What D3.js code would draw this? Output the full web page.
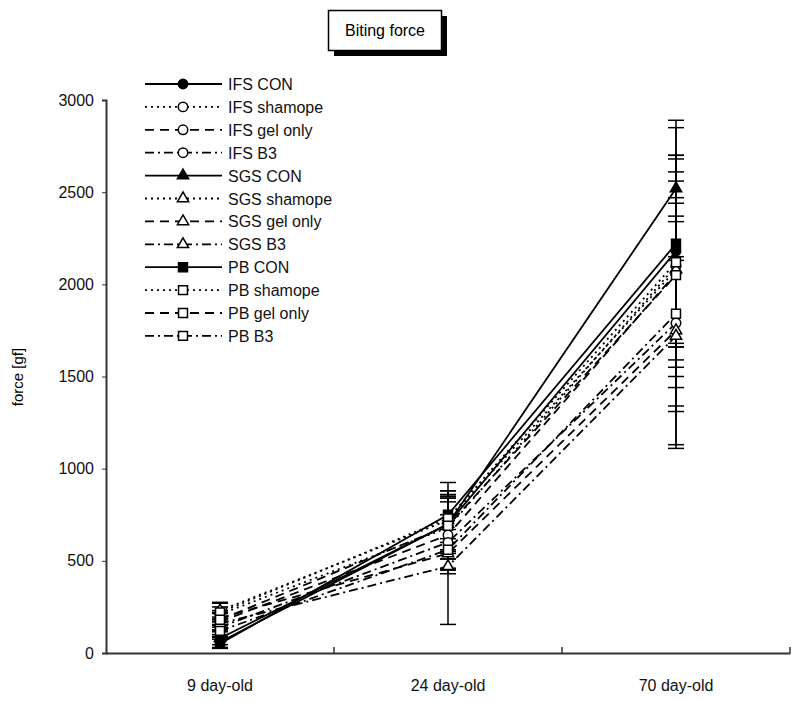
<!DOCTYPE html>
<html><head><meta charset="utf-8">
<script src="https://cdn.jsdelivr.net/npm/d3@7"></script>
<style>body{margin:0;background:#fff}svg{font-family:"Liberation Sans",Arial,sans-serif}</style>
</head><body><svg id="c" width="800" height="702"></svg>
<script>
const categories = ["9 day-old", "24 day-old", "70 day-old"];
const seriesNames = ["IFS CON","IFS shamope","IFS gel only","IFS B3","SGS CON","SGS shamope","SGS gel only","SGS B3","PB CON","PB shamope","PB gel only","PB B3"];
// means per series (9, 24, 70 day-old)
const ifsCon = [60, 700, 2180];
const ifsSham = [210, 680, 2100];
const ifsGel = [170, 640, 2060];
const ifsB3 = [140, 600, 1790];
const sgsCon = [80, 700, 2520];
const sgsSham = [230, 720, 2080];
const sgsGel = [190, 540, 1750];
const sgsB3 = [160, 470, 1720];
const pbCon = [50, 750, 2220];
const pbSham = [220, 730, 2120];
const pbGel = [180, 690, 2050];
const pbB3 = [120, 560, 1840];
// standard deviations
const ifsConSd = [30, 150, 520];
const ifsShamSd = [40, 170, 600];
const ifsGelSd = [45, 180, 620];
const ifsB3Sd = [40, 150, 680];
const sgsConSd = [35, 140, 370];
const sgsShamSd = [45, 160, 530];
const sgsGelSd = [40, 385, 620];
const sgsB3Sd = [35, 40, 410];
const pbConSd = [25, 130, 630];
const pbShamSd = [50, 130, 440];
const pbGelSd = [40, 150, 390];
const pbB3Sd = [35, 110, 500];
const yTicks = [0, 500, 1000, 1500, 2000, 2500, 3000];

const meansAll = [ifsCon, ifsSham, ifsGel, ifsB3, sgsCon, sgsSham, sgsGel, sgsB3, pbCon, pbSham, pbGel, pbB3];
const sdsAll = [ifsConSd, ifsShamSd, ifsGelSd, ifsB3Sd, sgsConSd, sgsShamSd, sgsGelSd, sgsB3Sd, pbConSd, pbShamSd, pbGelSd, pbB3Sd];

const dashes = [null, "2,4", "9,6", "9,4,2,4"];
const shapes = [d3.symbolCircle, d3.symbolTriangle, d3.symbolSquare];
const shapeSizes = [70, 55, 80];

const series = seriesNames.map((n, i) => ({
  name: n, means: meansAll[i], sds: sdsAll[i],
  dash: dashes[i % 4], shape: shapes[Math.floor(i / 4)], size: shapeSizes[Math.floor(i / 4)],
  filled: i % 4 === 0
}));

const svg = d3.select("#c");
const x = d3.scaleBand().domain(categories).range([106, 790]);
const y = d3.scaleLinear().domain([0, 3000]).range([653, 100]);
const cx = c => x(c) + x.bandwidth() / 2;

// title box
svg.append("rect").attr("x", 334).attr("y", 16).attr("width", 113).attr("height", 40).attr("fill", "#000");
svg.append("rect").attr("x", 328.5).attr("y", 10.5).attr("width", 113).attr("height", 40).attr("fill", "#fff").attr("stroke", "#000").attr("stroke-width", 1.5);
svg.append("text").attr("x", 385).attr("y", 36).attr("text-anchor", "middle").attr("font-size", 16).text("Biting force");

// axes
const yAxis = d3.axisLeft(y).tickValues(yTicks).tickFormat(d3.format("d")).tickSize(4).tickPadding(8);
const gy = svg.append("g").attr("transform", "translate(106,0)").call(yAxis);
gy.select(".domain").attr("stroke", "#333").attr("stroke-width", 2);
gy.selectAll("text").attr("font-size", 16).attr("font-family", "Liberation Sans, Arial, sans-serif").attr("fill", "#111");
gy.selectAll(".tick line").attr("stroke", "#333");

const xAxis = d3.axisBottom(x).tickSize(0).tickPadding(27);
const gx = svg.append("g").attr("transform", "translate(0,653)").call(xAxis);
gx.select(".domain").attr("stroke", "#333").attr("stroke-width", 2);
gx.selectAll("text").attr("font-size", 16).attr("font-family", "Liberation Sans, Arial, sans-serif").attr("fill", "#111");
// band boundary ticks pointing up
categories.forEach(c => {
  const xb = x(c) + x.bandwidth();
  svg.append("line").attr("x1", xb).attr("x2", xb).attr("y1", 653).attr("y2", 647).attr("stroke", "#333").attr("stroke-width", 1.5);
});

svg.append("text").attr("transform", "translate(23,377) rotate(-90)").attr("text-anchor", "middle").attr("font-size", 15).text("force [gf]");

// error bars
const eg = svg.append("g");
series.forEach(s => {
  categories.forEach((c, j) => {
    const xx = cx(c), hi = y(s.means[j] + s.sds[j]), lo = y(Math.max(0, s.means[j] - s.sds[j]));
    eg.append("line").attr("x1", xx).attr("x2", xx).attr("y1", hi).attr("y2", lo).attr("stroke", "#000").attr("stroke-width", 1.5);
    [hi, lo].forEach(v => eg.append("line").attr("x1", xx - 8).attr("x2", xx + 8).attr("y1", v).attr("y2", v).attr("stroke", "#000").attr("stroke-width", 1.5));
  });
});

// lines
const line = d3.line().x((d, j) => cx(categories[j])).y(d => y(d));
series.forEach(s => {
  svg.append("path").attr("d", line(s.means)).attr("fill", "none").attr("stroke", "#000")
    .attr("stroke-width", 1.8).attr("stroke-dasharray", s.dash);
});
// markers
series.forEach(s => {
  s.means.forEach((v, j) => {
    svg.append("path").attr("d", d3.symbol().type(s.shape).size(s.size)())
      .attr("transform", `translate(${cx(categories[j])},${y(v)})`)
      .attr("fill", s.filled ? "#000" : "#fff").attr("stroke", "#000").attr("stroke-width", 1.5);
  });
});

// legend
const lg = svg.append("g");
series.forEach((s, i) => {
  const ly = 84 + i * 22.9;
  lg.append("line").attr("x1", 145).attr("x2", 222).attr("y1", ly).attr("y2", ly)
    .attr("stroke", "#000").attr("stroke-width", 1.8).attr("stroke-dasharray", s.dash);
  lg.append("path").attr("d", d3.symbol().type(s.shape).size(s.size)())
    .attr("transform", `translate(183,${ly})`)
    .attr("fill", s.filled ? "#000" : "#fff").attr("stroke", "#000").attr("stroke-width", 1.5);
  lg.append("text").attr("x", 228).attr("y", ly + 6).attr("font-size", 16).attr("fill", "#111").text(s.name);
});
</script></body></html>
